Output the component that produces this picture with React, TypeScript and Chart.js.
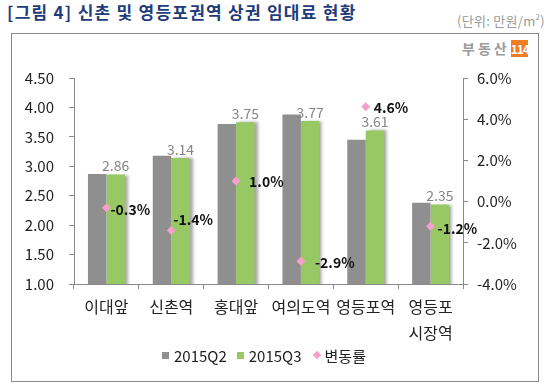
import React, { useEffect, useRef } from "react";
import { Chart, registerables } from "chart.js";

Chart.register(...registerables);

const categories: (string | string[])[] = ["이대앞", "신촌역", "홍대앞", "여의도역", "영등포역", ["영등포", "시장역"]];
const q2Values = [2.87, 3.18, 3.72, 3.88, 3.45, 2.38];
const q3Values = [2.86, 3.14, 3.75, 3.77, 3.61, 2.35];
const rateValues = [-0.3, -1.4, 1.0, -2.9, 4.6, -1.2];
const leftTicks = { min: 1.0, max: 4.5, step: 0.5 };
const rightTicks = { min: -4, max: 6, step: 2 };

const FONT = '"Noto Sans CJK KR", "Noto Sans", sans-serif';
const GRAY = "#8f8f8f";
const GREEN = "#97c863";
const PINK = "#f4a0c8";
const AXIS = "#8a8a8a";

// label offsets (dx, dy) from the marker, in px
const rateLabelOffsets: [number, number][] = [
  [4, 2],
  [2, -11],
  [13, 1],
  [14, 1],
  [8, 1],
  [7, 2],
];

const shadowPlugin = {
  id: "barShadow",
  beforeDatasetDraw(chart: any, args: any) {
    if (args.index !== 1) return;
    const ctx = chart.ctx;
    ctx.save();
    ctx.shadowColor = "rgba(0,0,0,0.35)";
    ctx.shadowBlur = 3;
    ctx.shadowOffsetX = 3;
    ctx.shadowOffsetY = 0;
  },
  afterDatasetDraw(chart: any, args: any) {
    if (args.index !== 1) return;
    chart.ctx.restore();
  },
};

const labelPlugin = {
  id: "valueLabels",
  afterDatasetsDraw(chart: any) {
    const ctx = chart.ctx;
    ctx.save();
    const m1 = chart.getDatasetMeta(1);
    ctx.font = `14px ${FONT}`;
    ctx.fillStyle = "#858585";
    ctx.textAlign = "center";
    ctx.textBaseline = "middle";
    m1.data.forEach((el: any, i: number) => {
      ctx.fillText(q3Values[i].toFixed(2), el.x, el.y - 8.5);
    });
    const m2 = chart.getDatasetMeta(2);
    ctx.font = `bold 14px ${FONT}`;
    ctx.fillStyle = "#111111";
    ctx.textAlign = "left";
    m2.data.forEach((el: any, i: number) => {
      const [dx, dy] = rateLabelOffsets[i];
      ctx.fillText(rateValues[i].toFixed(1) + "%", el.x + dx, el.y + dy);
    });
    ctx.restore();
  },
};

function LegendItem({ marker, label }: { marker: React.ReactNode; label: string }) {
  return (
    <div style={{ display: "flex", alignItems: "center", marginRight: 10 }}>
      {marker}
      <span style={{ marginLeft: 5 }}>{label}</span>
    </div>
  );
}

export default function App() {
  const canvasRef = useRef<HTMLCanvasElement | null>(null);

  useEffect(() => {
    document.body.style.margin = "0";
    const canvas = canvasRef.current;
    if (!canvas) return;
    const chart = new Chart(canvas, {
      type: "bar",
      data: {
        labels: categories,
        datasets: [
          {
            type: "bar",
            label: "2015Q2",
            data: q2Values,
            backgroundColor: GRAY,
            yAxisID: "y",
            order: 1,
            categoryPercentage: 0.57,
            barPercentage: 1.0,
          },
          {
            type: "bar",
            label: "2015Q3",
            data: q3Values,
            backgroundColor: GREEN,
            yAxisID: "y",
            order: 1,
            categoryPercentage: 0.57,
            barPercentage: 1.0,
          },
          {
            type: "line",
            label: "변동률",
            data: rateValues,
            yAxisID: "y1",
            order: 0,
            showLine: false,
            pointStyle: "rectRot",
            pointRadius: 4.5,
            pointBackgroundColor: PINK,
            pointBorderColor: PINK,
            pointBorderWidth: 0,
            backgroundColor: PINK,
            borderColor: PINK,
          } as any,
        ],
      },
      options: {
        animation: false,
        responsive: false,
        maintainAspectRatio: false,
        layout: { padding: { top: 44, left: 0, right: 0, bottom: 0 } },
        plugins: {
          legend: { display: false },
          tooltip: { enabled: false },
          title: { display: false },
        },
        scales: {
          x: {
            offset: true,
            grid: {
              offset: true,
              drawOnChartArea: false,
              drawTicks: true,
              tickLength: 5,
              color: AXIS,
            },
            border: { color: AXIS, width: 1 },
            ticks: {
              color: "#222222",
              padding: 5,
              maxRotation: 0,
              autoSkip: false,
              font: { family: FONT, size: 16, lineHeight: 1.625 },
            },
            afterFit(scale: any) {
              scale.height = 97;
            },
          },
          y: {
            position: "left",
            min: leftTicks.min,
            max: leftTicks.max,
            grid: { drawOnChartArea: false, tickLength: 5, color: AXIS },
            border: { color: AXIS, width: 1 },
            ticks: {
              stepSize: leftTicks.step,
              padding: 15,
              color: "#222222",
              font: { family: FONT, size: 15 },
              callback: (v: any) => Number(v).toFixed(2),
            },
            afterFit(scale: any) {
              scale.width = 62;
            },
          },
          y1: {
            position: "right",
            min: rightTicks.min,
            max: rightTicks.max,
            grid: { drawOnChartArea: false, tickLength: 5, color: AXIS },
            border: { color: AXIS, width: 1 },
            ticks: {
              stepSize: rightTicks.step,
              padding: 9,
              color: "#222222",
              font: { family: FONT, size: 15 },
              callback: (v: any) => Number(v).toFixed(1) + "%",
            },
            afterFit(scale: any) {
              scale.width = 75;
            },
          },
        },
      },
      plugins: [shadowPlugin, labelPlugin],
    });
    return () => chart.destroy();
  }, []);

  return (
    <div style={{ position: "relative", width: 547, height: 386, fontFamily: FONT, background: "#fff", overflow: "hidden" }}>
      <div
        style={{
          position: "absolute",
          left: 7,
          top: 0,
          fontSize: 17,
          fontWeight: 700,
          color: "#1f3c7a",
          letterSpacing: 1.25,
          lineHeight: "24px",
          whiteSpace: "nowrap",
        }}
      >
        [그림 4] 신촌 및 영등포권역 상권 임대료 현황
      </div>
      <div
        style={{
          position: "absolute",
          right: 2,
          top: 11,
          fontSize: 13,
          color: "#9a9a9a",
          lineHeight: "20px",
          letterSpacing: 0.3,
          whiteSpace: "nowrap",
        }}
      >
        (단위: 만원/m<sup style={{ fontSize: 8, verticalAlign: "6px", lineHeight: 0 }}>2</sup>)
      </div>
      <div
        style={{
          position: "absolute",
          left: 11,
          top: 33,
          width: 526,
          height: 347,
          border: "1px solid #8a8a8a",
        }}
      />
      <div style={{ position: "absolute", left: 462, top: 40, height: 17, display: "flex", alignItems: "center" }}>
        <span style={{ fontSize: 14, fontWeight: 700, color: "#9b9b9b", letterSpacing: 3, lineHeight: "17px" }}>부동산</span>
        <span
          style={{
            marginLeft: 1,
            background: "#ef7d22",
            color: "#fff",
            fontSize: 12,
            fontWeight: 700,
            width: 17,
            height: 17,
            lineHeight: "17px",
            textAlign: "center",
            letterSpacing: -1,
            display: "inline-block",
          }}
        >
          114
        </span>
      </div>
      <canvas
        ref={canvasRef}
        width={526}
        height={347}
        style={{ position: "absolute", left: 12, top: 34, width: 526, height: 347 }}
      />
      <div
        style={{
          position: "absolute",
          left: 162,
          top: 344,
          height: 22,
          display: "flex",
          alignItems: "center",
          fontSize: 15,
          color: "#222",
          whiteSpace: "nowrap",
        }}
      >
        <LegendItem marker={<span style={{ width: 7, height: 7, background: GRAY, display: "inline-block" }} />} label="2015Q2" />
        <LegendItem marker={<span style={{ width: 7, height: 7, background: GREEN, display: "inline-block" }} />} label="2015Q3" />
        <LegendItem
          marker={
            <span
              style={{ width: 6, height: 6, background: PINK, display: "inline-block", transform: "rotate(45deg)", marginLeft: 2 }}
            />
          }
          label="변동률"
        />
      </div>
    </div>
  );
}
